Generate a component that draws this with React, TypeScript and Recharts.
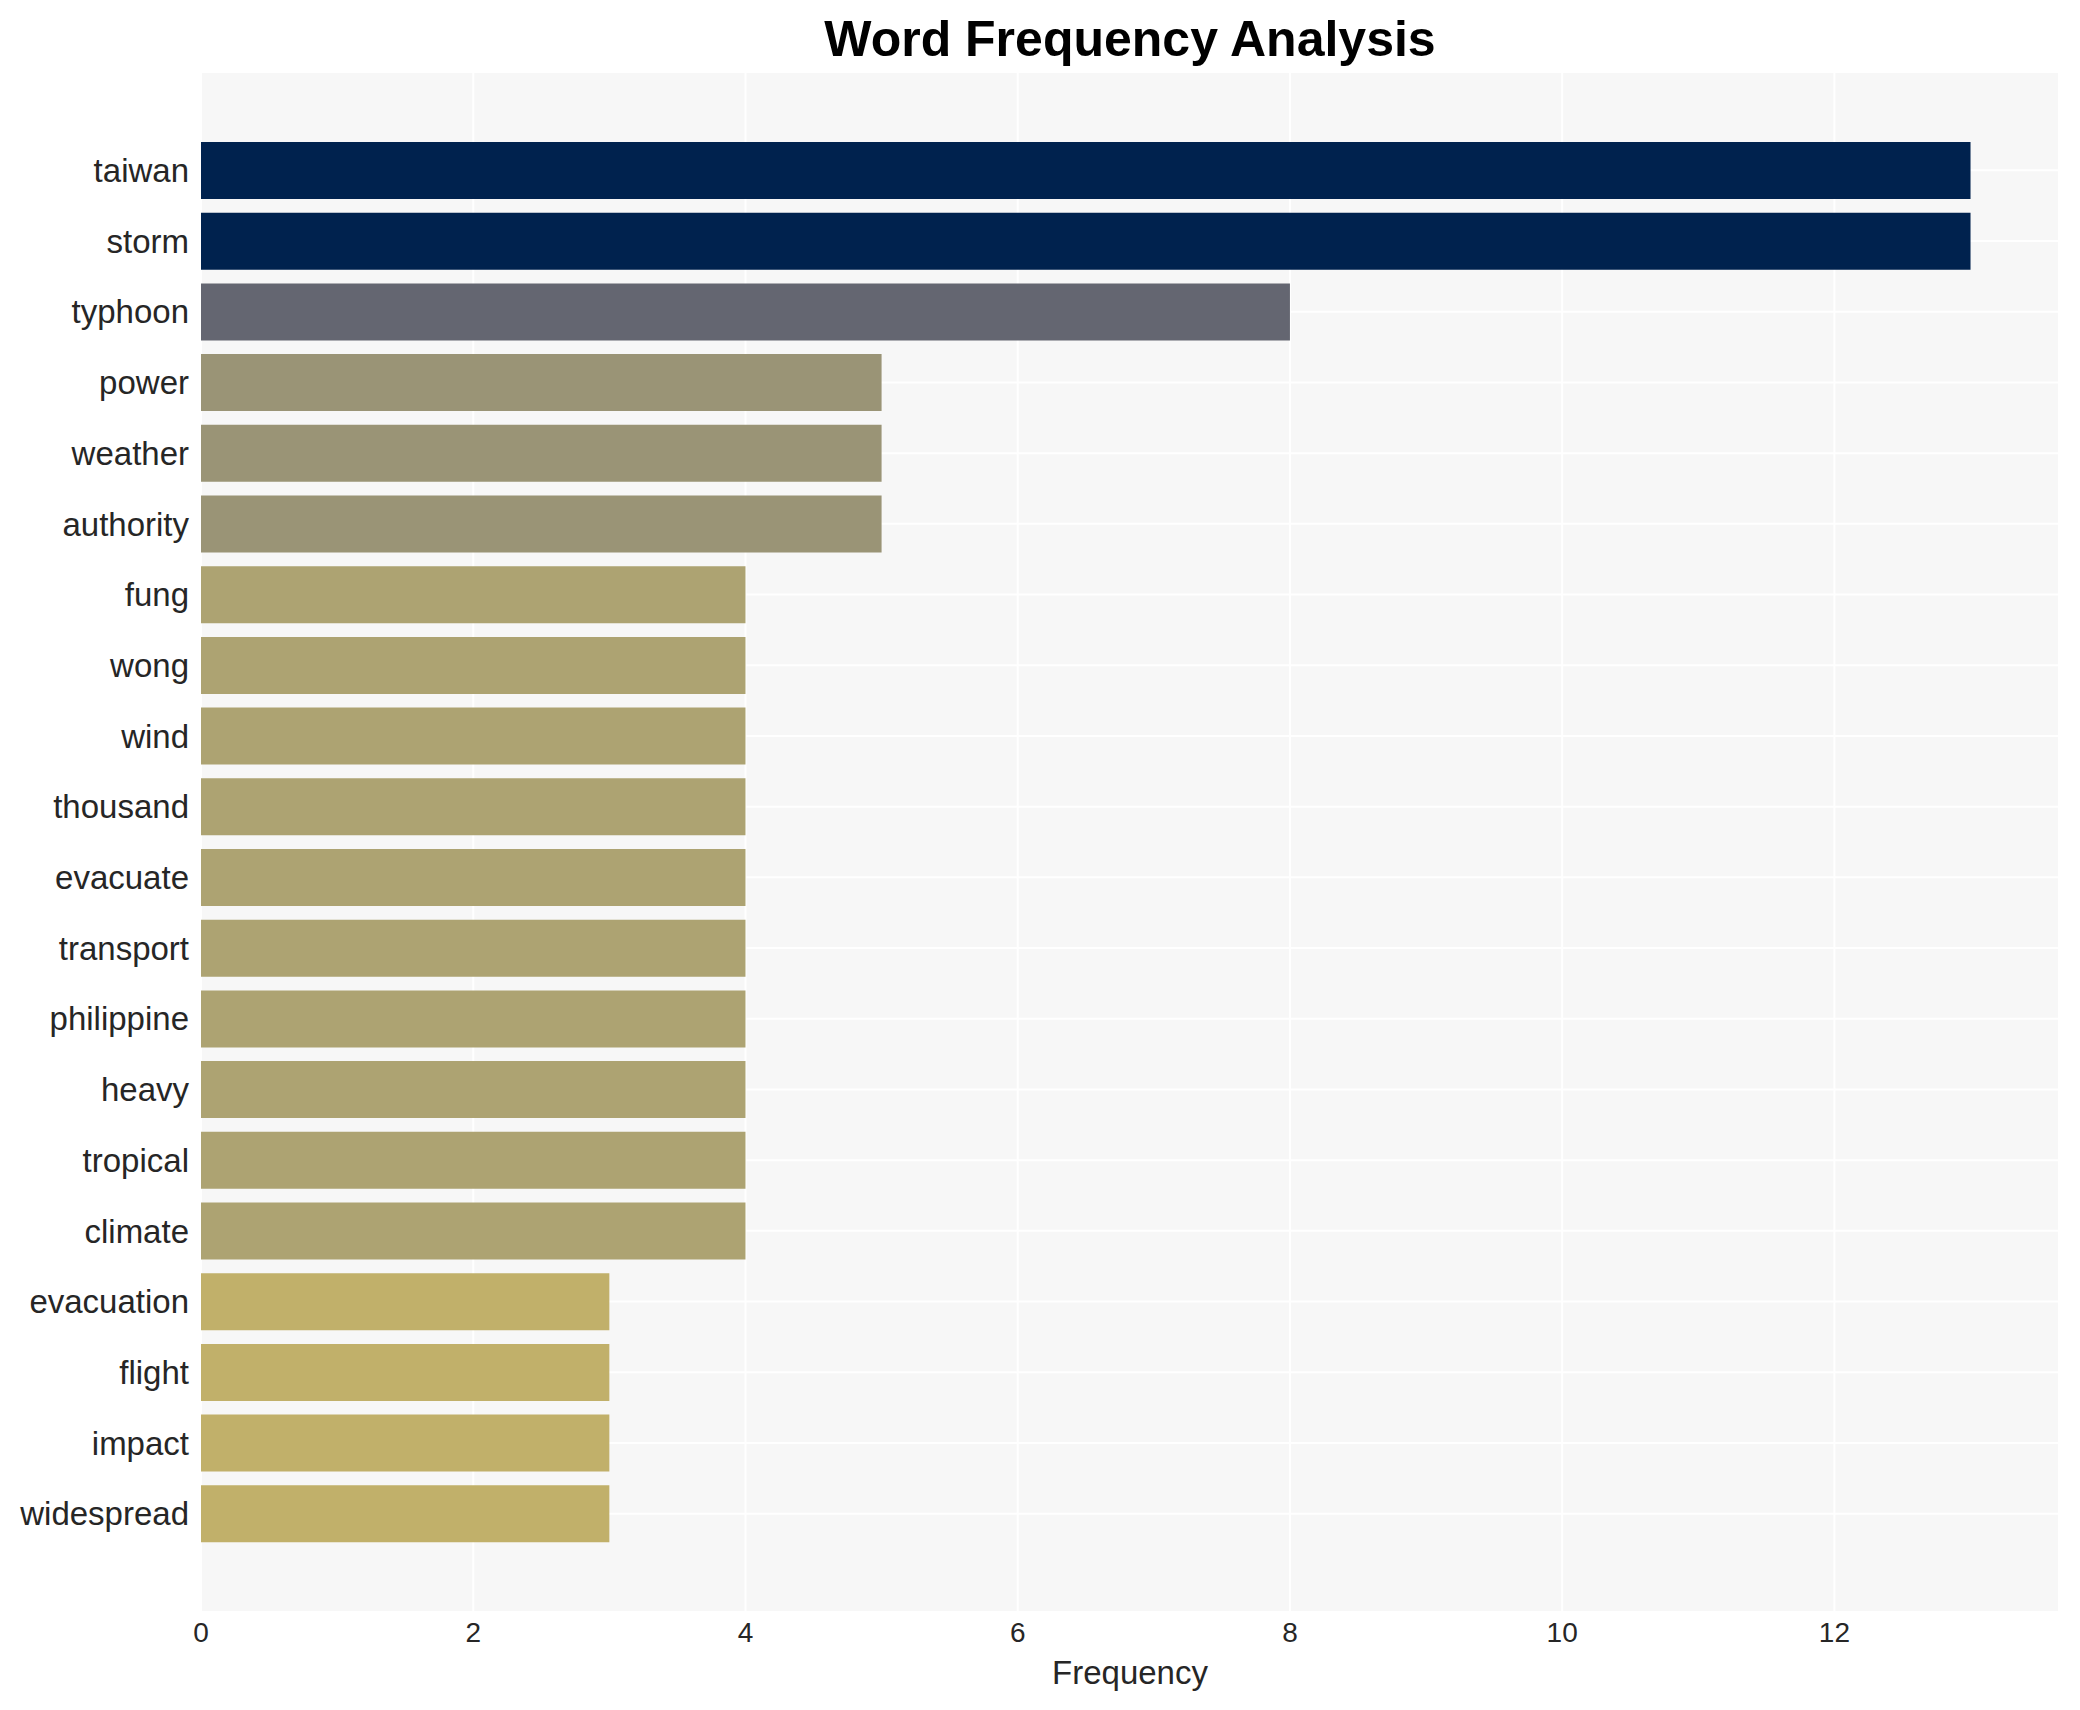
import { BarChart, Bar, XAxis, YAxis, CartesianGrid, Cell } from 'recharts';

const words = [
  'taiwan', 'storm', 'typhoon', 'power', 'weather', 'authority', 'fung', 'wong', 'wind', 'thousand',
  'evacuate', 'transport', 'philippine', 'heavy', 'tropical', 'climate', 'evacuation', 'flight', 'impact', 'widespread',
];
const counts = [13, 13, 8, 5, 5, 5, 4, 4, 4, 4, 4, 4, 4, 4, 4, 4, 3, 3, 3, 3];
const xTicks = [0, 2, 4, 6, 8, 10, 12];

// colour per frequency level (cividis-like ramp)
const levelColors: Record<number, string> = {
  13: '#00224e',
  8: '#646671',
  5: '#9a9476',
  4: '#ada372',
  3: '#c1b06a',
};

const FONT = '"Liberation Sans", Arial, Helvetica, sans-serif';

export default function App() {
  const data = words.map((w, i) => ({ word: w, count: counts[i] }));

  return (
    <div style={{ position: 'absolute', left: 0, top: 0, width: 2080, height: 1710, background: '#fff', fontFamily: FONT }}>
      <div
        style={{
          position: 'absolute',
          left: 201,
          width: 1858,
          top: 14,
          lineHeight: '50px',
          fontSize: 50,
          fontWeight: 'bold',
          textAlign: 'center',
          color: '#000',
        }}
      >
        Word Frequency Analysis
      </div>
      <BarChart
        width={2080}
        height={1710}
        data={data}
        layout="vertical"
        margin={{ top: 72, right: 21, bottom: 0, left: 0 }}
        barCategoryGap={0}
      >
        <CartesianGrid fill="#f7f7f7" stroke="#ffffff" strokeWidth={2} />
        <XAxis
          type="number"
          domain={[0, 13.65]}
          ticks={xTicks}
          allowDataOverflow
          axisLine={false}
          tickLine={false}
          tickSize={6}
          tickMargin={4}
          height={98}
          tick={{ fill: '#262626', fontSize: 28, fontFamily: FONT }}
          label={{ value: 'Frequency', position: 'insideBottom', offset: 26, fill: '#262626', fontSize: 33, fontFamily: FONT }}
        />
        <YAxis
          type="category"
          dataKey="word"
          width={201}
          axisLine={false}
          tickLine={false}
          tickSize={6}
          tickMargin={6}
          interval={0}
          padding={{ top: 63, bottom: 63 }}
          tick={{ fill: '#262626', fontSize: 33, fontFamily: FONT }}
        />
        <Bar dataKey="count" barSize={57} isAnimationActive={false}>
          {data.map((d) => (
            <Cell key={d.word} fill={levelColors[d.count]} />
          ))}
        </Bar>
      </BarChart>
    </div>
  );
}
